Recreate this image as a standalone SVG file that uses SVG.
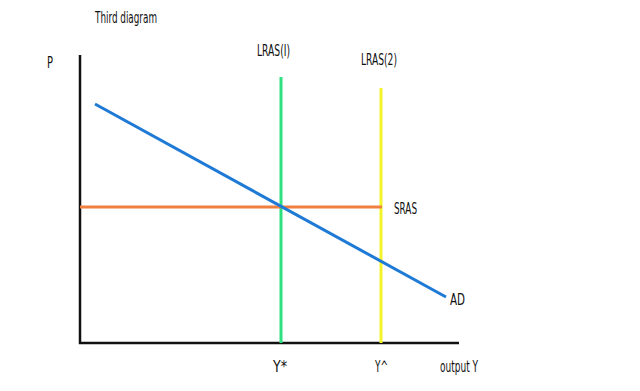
<svg xmlns="http://www.w3.org/2000/svg" width="640" height="391" viewBox="0 0 640 391">
<style>
text{font-family:"Liberation Sans Narrow","DejaVu Sans Condensed","Liberation Sans",sans-serif;fill:#111;}
.l{font-size:15px;}
.ax{stroke:#111;stroke-width:2.5;fill:none;}
.c{stroke-width:3;fill:none;}
</style>
<rect width="640" height="391" fill="#fff"/>
<text class="l" x="95" y="23" textLength="62" lengthAdjust="spacingAndGlyphs">Third diagram</text>
<g id="axes">
<path class="ax" d="M80,55 V343 H459"/>
<text class="l" x="47" y="68" textLength="6" lengthAdjust="spacingAndGlyphs">P</text>
<text class="l" x="440" y="372" textLength="38" lengthAdjust="spacingAndGlyphs">output Y</text>
</g>
<g id="connectors">
<line id="lras1" class="c" x1="281" y1="77" x2="281" y2="343" stroke="#2ee07e"/>
<line id="lras2" class="c" x1="381" y1="88" x2="381" y2="343" stroke="#f3f52a"/>
<line id="sras" class="c" x1="80" y1="207" x2="382" y2="207" stroke="#f08040"/>
<line id="ad" class="c" x1="95" y1="104" x2="446" y2="297" stroke="#1f7ad6"/>
</g>
<g id="label-lras1"><text class="l" x="257" y="56" textLength="33" lengthAdjust="spacingAndGlyphs">LRAS(I)</text></g>
<g id="label-lras2"><text class="l" x="361" y="65" textLength="36" lengthAdjust="spacingAndGlyphs">LRAS(2)</text></g>
<g id="label-sras"><text class="l" x="394" y="214" textLength="23" lengthAdjust="spacingAndGlyphs">SRAS</text></g>
<g id="label-ad"><text class="l" x="450" y="305" textLength="15" lengthAdjust="spacingAndGlyphs">AD</text></g>
<g id="label-ystar"><text class="l" x="273" y="372" textLength="14" lengthAdjust="spacingAndGlyphs">Y*</text></g>
<g id="label-yhat"><text class="l" x="375" y="372" textLength="13" lengthAdjust="spacingAndGlyphs">Y^</text></g>
</svg>
